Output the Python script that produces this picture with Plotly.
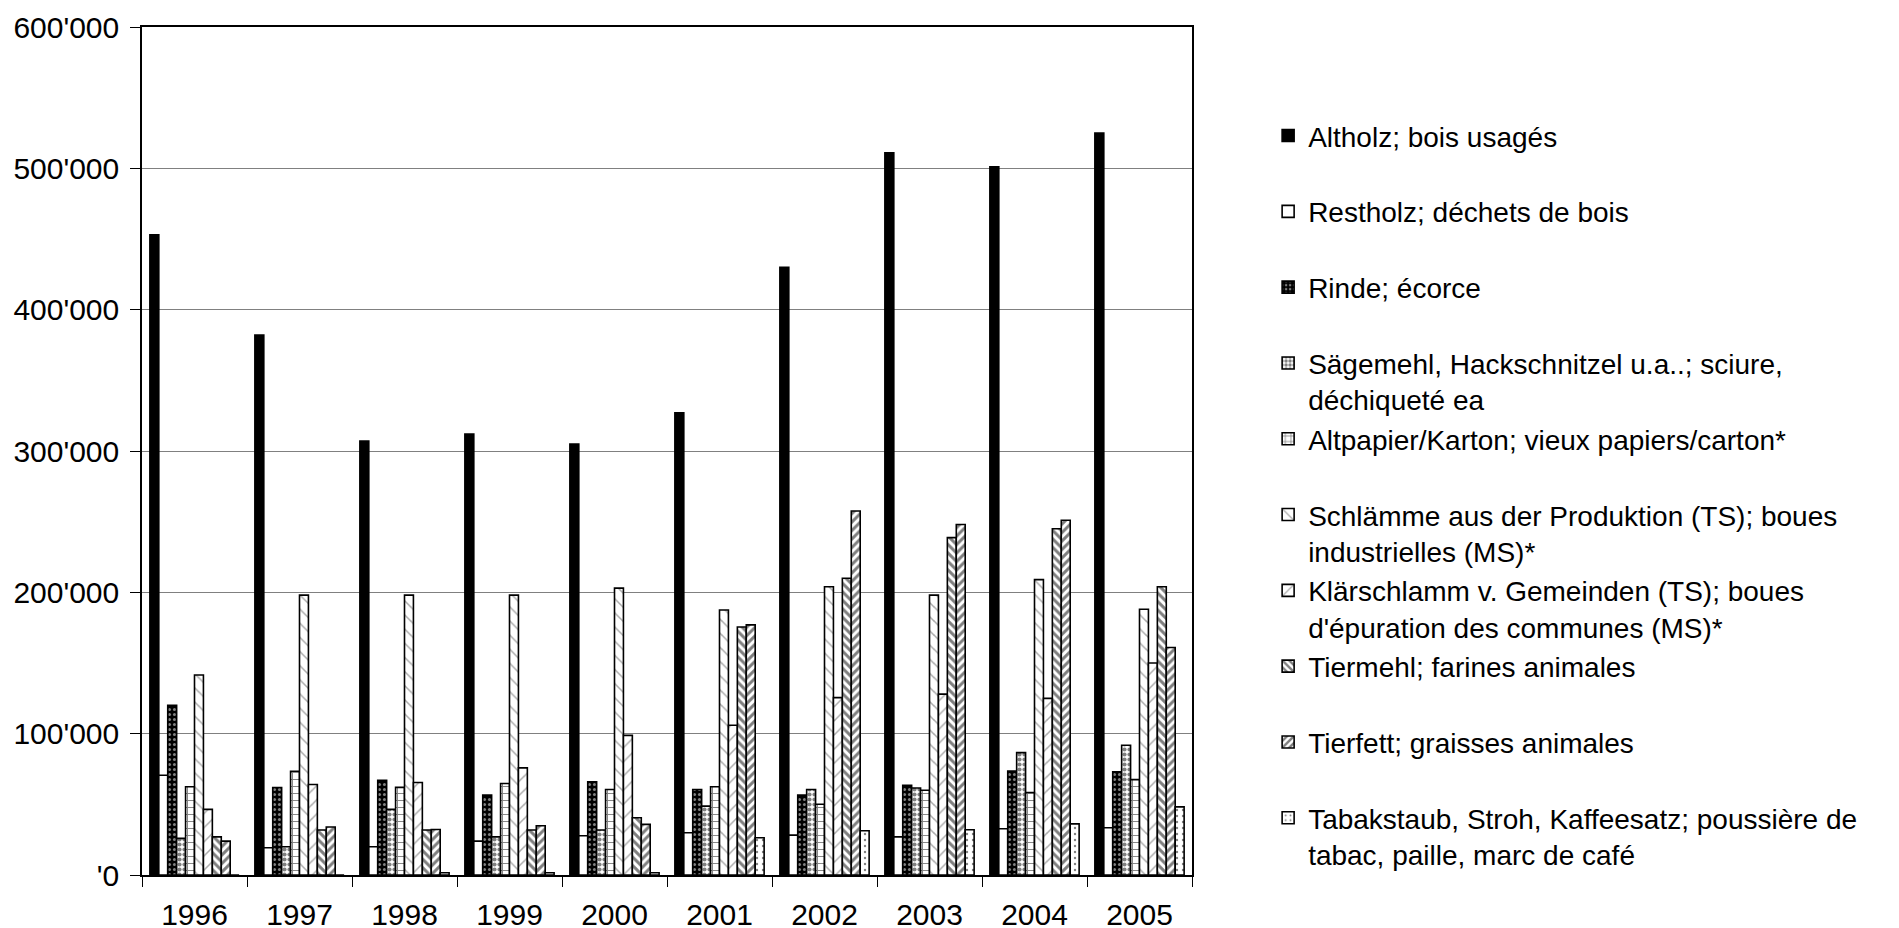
import plotly.graph_objects as go

years = ["1996", "1997", "1998", "1999", "2000", "2001", "2002", "2003", "2004", "2005"]

altholz = [453000, 382000, 307000, 312000, 305000, 327000, 430000, 511000, 501000, 525000]
restholz = [70600, 19300, 20000, 24000, 27800, 29900, 28200, 27000, 32700, 33400]
rinde = [120000, 61900, 67000, 56500, 65900, 60500, 56500, 63500, 73600, 73000]
saegemehl = [25900, 20000, 46400, 27000, 31800, 48700, 60500, 61600, 86600, 91800]
altpapier = [62400, 73400, 62000, 64700, 60500, 62400, 50100, 60000, 58400, 67500]
schlaemme = [141500, 198000, 198000, 198000, 203000, 187500, 204000, 198000, 209000, 188000]
klaerschlamm = [46400, 64000, 65400, 75800, 98800, 106000, 125500, 128000, 125000, 150000]
tiermehl = [27000, 31800, 31800, 31800, 40500, 175500, 210000, 238700, 245000, 204000]
tierfett = [24000, 34000, 32200, 34800, 35800, 177000, 257600, 248000, 251000, 161000]
tabak = [0, 0, 1600, 1600, 1600, 26400, 31300, 32000, 36200, 48200]

names = [
    "Altholz; bois usagés",
    "Restholz; déchets de bois",
    "Rinde; écorce",
    "Sägemehl, Hackschnitzel u.a..; sciure,<br>déchiqueté ea",
    "Altpapier/Karton; vieux papiers/carton*",
    "Schlämme aus der Produktion (TS); boues<br>industrielles (MS)*",
    "Klärschlamm v. Gemeinden (TS); boues<br>d'épuration des communes (MS)*",
    "Tiermehl; farines animales",
    "Tierfett; graisses animales",
    "Tabakstaub, Stroh, Kaffeesatz; poussière de<br>tabac, paille, marc de café",
]

ytickvals = [0, 100000, 200000, 300000, 400000, 500000, 600000]
yticktext = ["'0", "100'000", "200'000", "300'000", "400'000", "500'000", "600'000"]

series = [altholz, restholz, rinde, saegemehl, altpapier, schlaemme,
          klaerschlamm, tiermehl, tierfett, tabak]

patterns = [
    dict(shape="", bgcolor="black", fgcolor="black"),
    dict(shape="", bgcolor="white", fgcolor="white"),
    dict(shape=".", bgcolor="black", fgcolor="white", size=5, solidity=0.3),
    dict(shape=".", bgcolor="white", fgcolor="black", size=5, solidity=0.55),
    dict(shape="+", bgcolor="white", fgcolor="black", size=7, solidity=0.25),
    dict(shape="\\", bgcolor="white", fgcolor="#555555", size=10, solidity=0.15),
    dict(shape="/", bgcolor="white", fgcolor="#555555", size=10, solidity=0.15),
    dict(shape="\\", bgcolor="white", fgcolor="black", size=6, solidity=0.5),
    dict(shape="/", bgcolor="white", fgcolor="black", size=6, solidity=0.5),
    dict(shape=".", bgcolor="white", fgcolor="black", size=6, solidity=0.12),
]

FONT = "Liberation Sans, Arial, sans-serif"
FS_LEG = 28
FS_X = 30
FS_Y = 30

fig = go.Figure()
for i, (nm, vals, pat) in enumerate(zip(names, series, patterns)):
    label = nm if "<br>" in nm else nm + "<br>\u00a0"
    color = "black" if i == 0 else "white"
    fig.add_trace(go.Bar(
        x=years, y=vals, name=label,
        marker=dict(color=color, line=dict(color="black", width=1.6), pattern=pat),
    ))

fig.update_layout(
    width=1899, height=928,
    paper_bgcolor="white", plot_bgcolor="white",
    margin=dict(l=134, r=715, t=19, b=61),
    barmode="group", bargap=0.15, bargroupgap=0,
    font=dict(family=FONT, size=FS_LEG, color="black"),
    legend=dict(
        x=1.0725, xanchor="left", y=0.9011, yanchor="top",
        valign="top", tracegroupgap=0,
        font=dict(family=FONT, size=FS_LEG, color="black"),
    ),
    showlegend=True,
)

fig.update_xaxes(
    automargin=False,
    showline=True, linecolor="black", linewidth=1.5, mirror=True,
    ticks="outside", tickson="boundaries", ticklen=10, tickcolor="black",
    ticklabelstandoff=12,
    tickfont=dict(family=FONT, size=FS_X),
)
fig.update_yaxes(
    automargin=False, ticklabeloverflow="allow",
    range=[0, 600000], tickvals=ytickvals, ticktext=yticktext,
    showline=True, linecolor="black", linewidth=1.5, mirror=True,
    ticks="outside", ticklen=10, tickcolor="black",
    ticklabelstandoff=5,
    showgrid=True, gridcolor="#808080", gridwidth=1.2,
    zeroline=False,
    tickfont=dict(family=FONT, size=FS_Y),
)

fig.write_html("out.html")
